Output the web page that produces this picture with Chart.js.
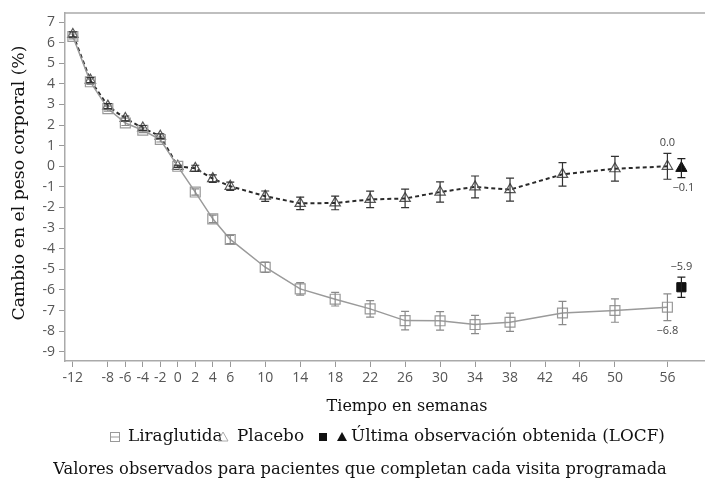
<!DOCTYPE html>
<html>
<head>
<meta charset="utf-8">
<script src="https://cdn.jsdelivr.net/npm/chart.js"></script>
<style>
  html, body { margin: 0; padding: 0; background: #fff; overflow: hidden; }
  canvas { display: block; }
</style>
</head>
<body>
<canvas id="chart" width="705" height="480"></canvas>
<script>
// weeks of the scheduled visits
const weeks = [-12, -10, -8, -6, -4, -2, 0, 2, 4, 6, 10, 14, 18, 22, 26, 30, 34, 38, 44, 50, 56];
const liraglutida = [6.3, 4.1, 2.8, 2.1, 1.75, 1.3, 0, -1.25, -2.55, -3.55, -4.9, -5.95, -6.45, -6.92, -7.49, -7.5, -7.68, -7.57, -7.12, -7.0, -6.84];
const liraglutidaErr = [0.12, 0.12, 0.12, 0.12, 0.12, 0.12, 0.05, 0.15, 0.18, 0.2, 0.25, 0.3, 0.33, 0.4, 0.45, 0.45, 0.44, 0.44, 0.56, 0.57, 0.65];
const placebo = [6.4, 4.18, 2.92, 2.32, 1.86, 1.46, 0, -0.1, -0.6, -0.97, -1.45, -1.8, -1.78, -1.61, -1.56, -1.25, -1.0, -1.13, -0.39, -0.12, 0.0];
const placeboErr = [0.12, 0.12, 0.12, 0.12, 0.12, 0.12, 0.05, 0.15, 0.18, 0.2, 0.25, 0.3, 0.33, 0.4, 0.45, 0.49, 0.53, 0.56, 0.57, 0.6, 0.63];

// last observation carried forward (LOCF)
const locfWeek = [57.6];
const liraglutidaLocf = [-5.87];
const liraglutidaLocfErr = [0.49];
const placeboLocf = [-0.09];
const placeboLocfErr = [0.46];

const xTicks = [-12, -8, -6, -4, -2, 0, 2, 4, 6, 10, 14, 18, 22, 26, 30, 34, 38, 42, 46, 50, 56];
const yTicks = [-9, -8, -7, -6, -5, -4, -3, -2, -1, 0, 1, 2, 3, 4, 5, 6, 7];

const toPoints = (xs, ys) => xs.map((x, i) => ({ x: x, y: ys[i] }));
const minus = v => v.toFixed(1).replace('-', '\u2212');

const SERIF = '"DejaVu Serif", "Liberation Serif", serif';
const SANS = '"Open Sans", "DejaVu Sans", sans-serif';

// fit a text into a given width, return font size used
function fitSize(ctx, text, width, family) {
  ctx.font = '20px ' + family;
  return 20 * width / ctx.measureText(text).width;
}

const errorBars = {
  id: 'errorBars',
  afterDatasetsDraw(chart) {
    const ctx = chart.ctx;
    const y = chart.scales.y;
    chart.data.datasets.forEach((ds, i) => {
      if (!ds.errors) return;
      const meta = chart.getDatasetMeta(i);
      ctx.save();
      ctx.strokeStyle = ds.errorColor;
      ctx.lineWidth = 1.2;
      meta.data.forEach((pt, j) => {
        const v = ds.data[j].y, e = ds.errors[j];
        const top = y.getPixelForValue(v + e), bot = y.getPixelForValue(v - e);
        ctx.beginPath();
        ctx.moveTo(pt.x, top); ctx.lineTo(pt.x, bot);
        ctx.moveTo(pt.x - 4, top); ctx.lineTo(pt.x + 4, top);
        ctx.moveTo(pt.x - 4, bot); ctx.lineTo(pt.x + 4, bot);
        ctx.stroke();
      });
      ctx.restore();
    });
  }
};

// value labels at week 56 and LOCF
const valueLabels = {
  id: 'valueLabels',
  afterDatasetsDraw(chart) {
    const ctx = chart.ctx;
    const y = chart.scales.y;
    const items = [
      { ds: 1, idx: 20, above: true, dx: 0 },
      { ds: 3, idx: 0, above: false, dx: 2 },
      { ds: 2, idx: 0, above: true, dx: 0 },
      { ds: 0, idx: 20, above: false, dx: 0 }
    ];
    ctx.save();
    ctx.font = '11px ' + SANS;
    ctx.fillStyle = '#444';
    ctx.textAlign = 'center';
    ctx.textBaseline = 'middle';
    items.forEach(it => {
      const ds = chart.data.datasets[it.ds];
      const pt = chart.getDatasetMeta(it.ds).data[it.idx];
      const v = ds.data[it.idx].y, e = ds.errors[it.idx];
      const py = it.above ? y.getPixelForValue(v + e) - 10 : y.getPixelForValue(v - e) + 10;
      ctx.fillText(minus(v), pt.x + it.dx, py);
    });
    ctx.restore();
  }
};

const frameAndText = {
  id: 'frameAndText',
  afterDraw(chart) {
    const ctx = chart.ctx;
    const a = chart.chartArea;
    ctx.save();
    // top border of the frame
    ctx.strokeStyle = '#aaa';
    ctx.lineWidth = 1.5;
    ctx.beginPath();
    ctx.moveTo(a.left, a.top);
    ctx.lineTo(a.right, a.top);
    ctx.stroke();

    ctx.fillStyle = '#111';
    ctx.textBaseline = 'middle';
    ctx.textAlign = 'center';

    // y axis title
    const yTitle = 'Cambio en el peso corporal (%)';
    let s = fitSize(ctx, yTitle, 275, SERIF);
    ctx.save();
    ctx.translate(20, 183);
    ctx.rotate(-Math.PI / 2);
    ctx.font = s + 'px ' + SERIF;
    ctx.fillText(yTitle, 0, 0);
    ctx.restore();

    // x axis title
    const xTitle = 'Tiempo en semanas';
    s = fitSize(ctx, xTitle, 161, SERIF);
    ctx.font = s + 'px ' + SERIF;
    ctx.fillText(xTitle, 407, 407);

    // footer
    const foot = 'Valores observados para pacientes que completan cada visita programada';
    s = fitSize(ctx, foot, 614, SERIF);
    ctx.font = s + 'px ' + SERIF;
    ctx.fillText(foot, 360, 470);

    // legend
    const ly = 437;
    const locfText = '\u00daltima observaci\u00f3n obtenida (LOCF)';
    s = fitSize(ctx, locfText, 314, SERIF);
    ctx.font = s + 'px ' + SERIF;
    ctx.textAlign = 'left';
    ctx.fillText('Liraglutida', 128, ly);
    ctx.fillText('Placebo', 237, ly);
    ctx.fillText(locfText, 351, ly);

    // legend symbols
    ctx.lineWidth = 1;
    ctx.strokeStyle = '#999';
    ctx.strokeRect(110.5, ly - 4.5, 9, 9);
    ctx.beginPath();
    ctx.moveTo(110, ly); ctx.lineTo(120, ly);
    ctx.stroke();
    ctx.strokeStyle = '#aaa';
    ctx.beginPath();
    ctx.moveTo(223, ly - 5); ctx.lineTo(228, ly + 4); ctx.lineTo(218, ly + 4); ctx.closePath();
    ctx.stroke();
    ctx.fillStyle = '#111';
    ctx.fillRect(319, ly - 4, 8, 8);
    ctx.beginPath();
    ctx.moveTo(342, ly - 5); ctx.lineTo(347, ly + 4); ctx.lineTo(337, ly + 4); ctx.closePath();
    ctx.fill();
    ctx.restore();
  }
};

new Chart(document.getElementById('chart'), {
  type: 'line',
  data: {
    datasets: [
      {
        label: 'Liraglutida',
        data: toPoints(weeks, liraglutida),
        errors: liraglutidaErr,
        errorColor: '#8a8a8a',
        borderColor: '#9a9a9a',
        borderWidth: 1.5,
        pointStyle: 'rect',
        pointRadius: 7,
        pointBorderWidth: 1.2,
        pointBorderColor: '#999',
        pointBackgroundColor: 'rgba(255,255,255,0)',
        tension: 0
      },
      {
        label: 'Placebo',
        data: toPoints(weeks, placebo),
        errors: placeboErr,
        errorColor: '#333',
        borderColor: '#2a2a2a',
        borderWidth: 2,
        borderDash: [4, 3],
        pointStyle: 'triangle',
        pointRadius: 6,
        pointBorderWidth: 1.2,
        pointBorderColor: '#555',
        pointBackgroundColor: 'rgba(255,255,255,0)',
        tension: 0
      },
      {
        label: 'Liraglutida LOCF',
        data: toPoints(locfWeek, liraglutidaLocf),
        errors: liraglutidaLocfErr,
        errorColor: '#222',
        showLine: false,
        pointStyle: 'rect',
        pointRadius: 6.5,
        pointBorderWidth: 1,
        pointBorderColor: '#111',
        pointBackgroundColor: '#111'
      },
      {
        label: 'Placebo LOCF',
        data: toPoints(locfWeek, placeboLocf),
        errors: placeboLocfErr,
        errorColor: '#222',
        showLine: false,
        pointStyle: 'triangle',
        pointRadius: 6.5,
        pointBorderWidth: 1,
        pointBorderColor: '#111',
        pointBackgroundColor: '#111'
      }
    ]
  },
  options: {
    responsive: false,
    animation: false,
    layout: { autoPadding: false, padding: { left: 0, right: 0, top: 13, bottom: 89 } },
    plugins: {
      legend: { display: false },
      tooltip: { enabled: false }
    },
    scales: {
      x: {
        type: 'linear',
        min: -12.9,
        max: 60.3,
        afterBuildTicks: scale => { scale.ticks = xTicks.map(v => ({ value: v })); },
        afterFit: scale => { scale.height = 30; },
        grid: { display: true, drawOnChartArea: false, tickLength: 6, color: '#999' },
        border: { display: true, color: '#aaa', width: 1.5 },
        ticks: {
          autoSkip: false,
          maxRotation: 0,
          padding: 3,
          color: '#555',
          font: { family: SANS, size: 14 }
        }
      },
      y: {
        min: -9.45,
        max: 7.44,
        afterBuildTicks: scale => { scale.ticks = yTicks.map(v => ({ value: v })); },
        afterFit: scale => { scale.width = 65; },
        grid: { display: true, drawOnChartArea: false, tickLength: 6, color: '#999' },
        border: { display: true, color: '#aaa', width: 1.5 },
        ticks: {
          autoSkip: false,
          padding: 4,
          color: '#555',
          font: { family: SANS, size: 14 }
        }
      }
    }
  },
  plugins: [errorBars, valueLabels, frameAndText]
});
</script>
</body>
</html>
